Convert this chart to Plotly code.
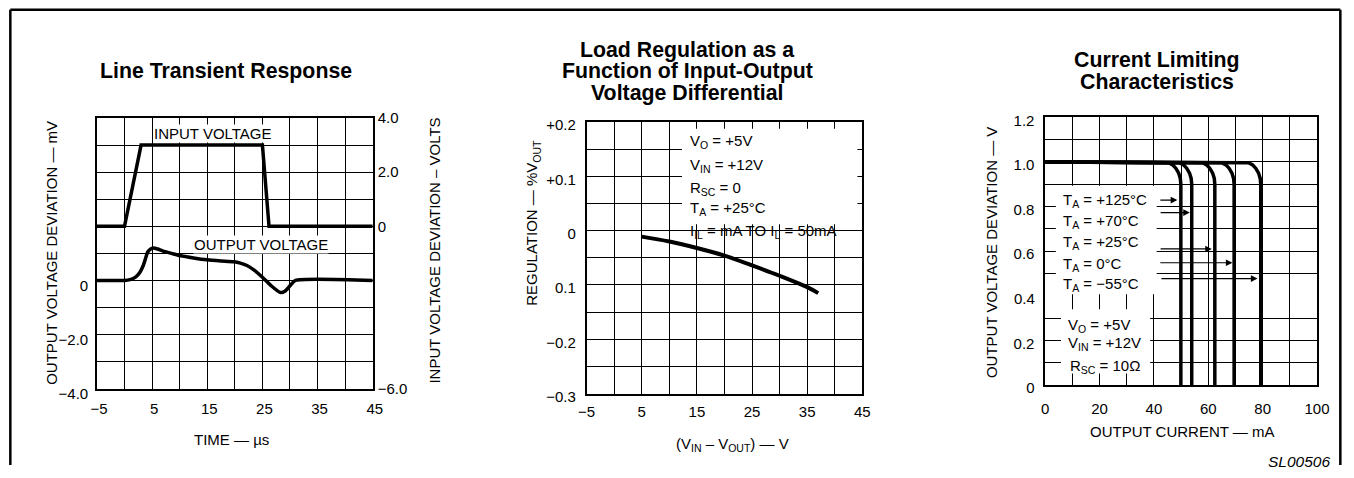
import plotly.graph_objects as go

W, H = 1354, 478
FONT = "Liberation Sans, Arial, Helvetica, sans-serif"
BOLD = dict(family=FONT, size=21.3, color="black", weight="bold")
TXT = dict(family=FONT, size=15, color="black")

# the page is photographed with a small inset; place things in target pixels
OFF, SW, SH = 9, 1333, H - 18


def X(p):
    return (p - OFF) / SW


def Y(p):
    return 1 - (p - OFF) / SH


# ---------------- Line Transient Response ----------------
lt_time_in = [-5, 0, 3, 25, 26.2, 45]
lt_input_v = [0, 0, 3.0, 3.0, 0, 0]
lt_time_out = [-5, 0, 1, 2, 2.8, 3.4, 3.8, 4.2, 4.8, 5.3, 6, 7, 8.5, 10, 12.5,
               15, 17.5, 19.8, 21, 22.2, 23.5, 25, 26.5, 28.3, 29.2, 30.2, 31, 45]
lt_output_mv = [0, 0, 0.03, 0.12, 0.3, 0.55, 0.8, 1.05, 1.17, 1.2, 1.16, 1.08,
                1.0, 0.92, 0.83, 0.76, 0.72, 0.69, 0.64, 0.55, 0.38, 0.12,
                -0.18, -0.45, -0.38, -0.15, 0, 0]
lt_xticks = [-5, 0, 5, 10, 15, 20, 25, 30, 35, 40, 45]
lt_xlabels = ["−5", "", "5", "", "15", "", "25", "", "35", "", "45"]
lt_yticks = [-4, -3, -2, -1, 0, 1, 2, 3, 4, 5, 6]
lt_ylabels = ["−4.0", "", "−2.0", "", "0", "", "", "", "", "", ""]
lt_y2ticks = [4, 2, 0, -6]
lt_y2labels = ["4.0", "2.0", "0", "−6.0"]

# ---------------- Load Regulation ----------------
lr_diff_v = [5, 10, 15, 20, 25, 30, 35, 37]
lr_regulation = [-0.011, -0.020, -0.032, -0.046, -0.064, -0.083, -0.104, -0.115]
lr_xticks = [-5, 0, 5, 10, 15, 20, 25, 30, 35, 40, 45]
lr_xlabels = ["−5", "", "5", "", "15", "", "25", "", "35", "", "45"]
lr_yticks = [0.2, 0.15, 0.1, 0.05, 0, -0.05, -0.1, -0.15, -0.2, -0.25, -0.3]
lr_ylabels = ["+0.2", "", "+0.1", "", "0", "", "0.1", "", "−0.2", "", "−0.3"]
lr_notes = ["V<sub>O</sub> = +5V", "V<sub>IN</sub> = +12V", "R<sub>SC</sub> = 0",
            "T<sub>A</sub> = +25°C", "I<sub>IL</sub> = mA TO I<sub>L</sub> = 50mA"]
lr_note_y = [0.1635, 0.1208, 0.0783, 0.0405, -0.0007]

# ---------------- Current Limiting ----------------
cl_knee_v = [1.0, 1.0, 0.997, 0.987, 0.971, 0.95, 0.926, 0.9, 0.0]
cl_cur_125 = [0, 43.9, 45.4, 46.9, 48.1, 49.1, 49.7, 49.9, 49.9]
cl_cur_70 = [0, 47.9, 49.4, 50.9, 52.1, 53.1, 53.7, 53.9, 53.9]
cl_cur_25 = [0, 56.4, 57.9, 59.4, 60.6, 61.6, 62.2, 62.4, 62.4]
cl_cur_0 = [0, 63.5, 65.0, 66.5, 67.7, 68.7, 69.3, 69.5, 69.5]
cl_cur_m55 = [0, 73.3, 74.8, 76.3, 77.5, 78.5, 79.1, 79.3, 79.3]
cl_xticks = [0, 10, 20, 30, 40, 50, 60, 70, 80, 90, 100]
cl_xlabels = ["0", "", "20", "", "40", "", "60", "", "80", "", "100"]
cl_ygrid = [0, 0.1, 0.2, 0.3, 0.5, 0.6, 0.7, 0.8, 0.9, 1.0, 1.1, 1.2]
cl_ylabels = ["0", "", "0.2", "", "", "0.6", "", "0.8", "", "1.0", "", "1.2"]
cl_temp_labels = ["T<sub>A</sub> = +125°C", "T<sub>A</sub> = +70°C", "T<sub>A</sub> = +25°C",
                  "T<sub>A</sub> = 0°C", "T<sub>A</sub> = −55°C"]
cl_temp_label_y = [0.825, 0.733, 0.637, 0.538, 0.449]
cl_arrow_tail = [41.8, 41.9, 41.9, 41.8, 42.2]
cl_arrow_head = [48.6, 53.2, 61.3, 68.9, 78.1]
cl_arrow_y = [0.829, 0.773, 0.610, 0.548, 0.477]
cl_cond = ["V<sub>O</sub> = +5V", "V<sub>IN</sub> = +12V", "R<sub>SC</sub> = 10Ω"]
cl_cond_y = [0.267, 0.185, 0.081]
cl_cond_x = [7.6, 7.6, 8.5]

fig = go.Figure()

LINE = dict(color="black", width=3.5)
fig.add_trace(go.Scatter(x=lt_time_in, y=lt_input_v, mode="lines", line=LINE,
                         xaxis="x", yaxis="y2", hoverinfo="skip"))
fig.add_trace(go.Scatter(x=lt_time_out, y=lt_output_mv, mode="lines",
                         line=dict(color="black", width=3.5, shape="spline", smoothing=0.6),
                         xaxis="x", yaxis="y", hoverinfo="skip"))
fig.add_trace(go.Scatter(x=lr_diff_v, y=lr_regulation, mode="lines",
                         line=dict(color="black", width=4, shape="spline"),
                         xaxis="x2", yaxis="y3", hoverinfo="skip"))
for cur in [cl_cur_125, cl_cur_70, cl_cur_25, cl_cur_0, cl_cur_m55]:
    fig.add_trace(go.Scatter(x=cur, y=cl_knee_v, mode="lines", line=LINE,
                             xaxis="x3", yaxis="y4", hoverinfo="skip"))


def ax(**kw):
    base = dict(showline=True, linecolor="black", linewidth=1.5, mirror=True,
                showgrid=True, gridcolor="black", gridwidth=1, zeroline=False,
                ticks="", tickfont=TXT, fixedrange=True, tickmode="array")
    base.update(kw)
    return base


fig.update_layout(
    width=W, height=H, autosize=False, margin=dict(l=0, r=0, t=0, b=0, pad=0),
    paper_bgcolor="white", plot_bgcolor="white", showlegend=False,
    font=TXT,
    xaxis=ax(domain=[X(97), X(373)], range=[-5, 45], anchor="y",
             tickvals=lt_xticks, ticktext=lt_xlabels, ticklabelstandoff=6,
             ticklabelshift=2),
    yaxis=ax(domain=[Y(392), Y(119)], range=[-4, 6], anchor="x",
             tickvals=lt_yticks, ticktext=lt_ylabels, ticklabelstandoff=4,
             ticklabelshift=5),
    yaxis2=dict(overlaying="y", side="right", anchor="x", range=[-6, 4],
                showgrid=False, showline=False, zeroline=False, ticks="",
                tickmode="array", tickvals=lt_y2ticks, ticktext=lt_y2labels,
                tickfont=TXT, ticklabelstandoff=4, fixedrange=True),
    xaxis2=ax(domain=[X(587), X(863)], range=[-5, 45], anchor="y3",
              tickvals=lr_xticks, ticktext=lr_xlabels, ticklabelstandoff=4),
    yaxis3=ax(domain=[Y(397), Y(123)], range=[-0.3, 0.2], anchor="x2",
              tickvals=lr_yticks, ticktext=lr_ylabels, ticklabelstandoff=6,
              ticklabelshift=3),
    xaxis3=ax(domain=[X(1046), X(1318)], range=[0, 100], anchor="y4",
              tickvals=cl_xticks, ticktext=cl_xlabels, ticklabelstandoff=9),
    yaxis4=ax(domain=[Y(388.3), Y(118.3)], range=[0, 1.2], anchor="x3",
              tickvals=cl_ygrid, ticktext=cl_ylabels, ticklabelstandoff=6,
              ticklabelshift=3),
)

shapes = []
# outer frame (open at the bottom)
fr = dict(type="line", xref="paper", yref="paper", line=dict(color="black", width=2.5))
shapes.append(dict(fr, x0=0.001, x1=0.9995, y0=0.9985, y1=0.9985))
shapes.append(dict(fr, x0=0.001, x1=0.001, y0=0.9985, y1=0.0))
shapes.append(dict(fr, x0=0.9995, x1=0.9995, y0=0.9985, y1=0.0))
# white note boxes (above grid, below traces)
wb = dict(type="rect", fillcolor="white", line=dict(width=0), layer="between")
shapes.append(dict(wb, xref="x2", yref="y3", x0=12.3, x1=44.1, y0=0.012, y1=0.1878))
shapes.append(dict(wb, xref="x3", yref="y4", x0=3.9, x1=41.0, y0=0.407, y1=0.893))
shapes.append(dict(wb, xref="x3", yref="y4", x0=5.8, x1=38.6, y0=0.052, y1=0.34))
fig.update_layout(shapes=shapes)

ann = []


def note(text, x, y, xref="paper", yref="paper", **kw):
    d = dict(text=text, x=x, y=y, xref=xref, yref=yref, showarrow=False, font=TXT,
             xanchor="center", yanchor="middle")
    d.update(kw)
    ann.append(d)


# titles
note("Line Transient Response", X(226), Y(72), font=BOLD)
for t, yy in zip(["Load Regulation as a", "Function of Input-Output", "Voltage Differential"],
                 [50, 72, 94]):
    note(t, X(688), Y(yy), font=BOLD)
for t, yy in zip(["Current Limiting", "Characteristics"], [60.5, 82.5]):
    note(t, X(1158), Y(yy), font=BOLD)

# axis titles
note("OUTPUT VOLTAGE DEVIATION — mV", X(52), Y(255), textangle=-90)
note("INPUT VOLTAGE DEVIATION – VOLTS", X(435), Y(253), textangle=-90)
note("TIME — µs", X(232), Y(443))
note("REGULATION — %V<sub>OUT</sub>", X(533), Y(225), textangle=-90)
note("(V<sub>IN</sub> – V<sub>OUT</sub>) — V", X(733), Y(448))
note("OUTPUT VOLTAGE DEVIATION — V", X(993), Y(255), textangle=-90)
note("OUTPUT CURRENT — mA", X(1183), Y(435))
note("0.4", X(1038), 0.4, yref="y4", xanchor="right", yshift=-3)
note("SL00506", X(1333), Y(465), xanchor="right",
     font=dict(family=FONT, size=15.5, color="black", style="italic"))

# in-plot labels
note("INPUT VOLTAGE", 16.1, 5.44, xref="x", yref="y", bgcolor="white", borderpad=0)
note("OUTPUT VOLTAGE", 24.8, 1.31, xref="x", yref="y", bgcolor="white", borderpad=0)
for t, yy in zip(lr_notes, lr_note_y):
    note(t, 13.3, yy, xref="x2", yref="y3", xanchor="left")
for t, yy in zip(cl_temp_labels, cl_temp_label_y):
    note(t, 5.8, yy, xref="x3", yref="y4", xanchor="left")
for t, yy, xx in zip(cl_cond, cl_cond_y, cl_cond_x):
    note(t, xx, yy, xref="x3", yref="y4", xanchor="left")
for tail, head, yy in zip(cl_arrow_tail, cl_arrow_head, cl_arrow_y):
    ann.append(dict(text="", x=head, y=yy, ax=tail, ay=yy, xref="x3", yref="y4",
                    axref="x3", ayref="y4", showarrow=True, arrowhead=2,
                    arrowsize=1.1, arrowwidth=1.2, arrowcolor="black", standoff=0))

fig.update_layout(annotations=ann)
fig.write_html(
    "out.html",
    config={"responsive": False, "displayModeBar": False},
    post_script="document.body.style.margin='0';document.body.style.overflow='hidden';",
)
